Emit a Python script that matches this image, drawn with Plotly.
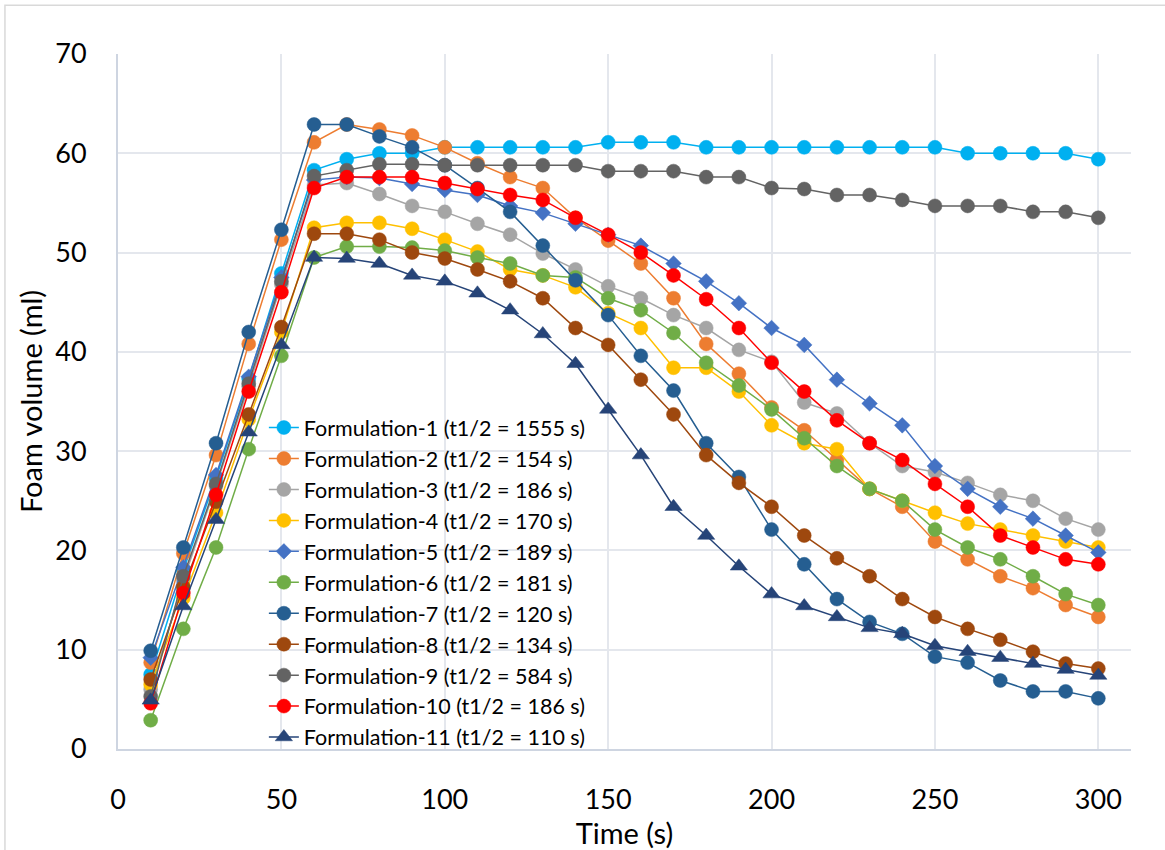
import plotly.graph_objects as go

# Sampling times (s)
time_s = [10, 20, 30, 40, 50, 60, 70, 80, 90, 100, 110, 120, 130, 140, 150,
          160, 170, 180, 190, 200, 210, 220, 230, 240, 250, 260, 270, 280, 290, 300]

# Foam volume (ml) for each formulation
f1 = [7.5, 18.0, 27.3, 37.3, 47.9, 58.3, 59.4, 60.0, 60.0, 60.6, 60.6, 60.6, 60.6, 60.6, 61.1,
      61.1, 61.1, 60.6, 60.6, 60.6, 60.6, 60.6, 60.6, 60.6, 60.6, 60.0, 60.0, 60.0, 60.0, 59.4]
f2 = [8.7, 19.7, 29.6, 40.8, 51.3, 61.1, 62.9, 62.4, 61.8, 60.6, 59.0, 57.6, 56.5, 53.5, 51.2,
      48.9, 45.4, 40.8, 37.8, 34.4, 32.1, 29.1, 26.2, 24.4, 20.9, 19.1, 17.4, 16.2, 14.5, 13.3]
f3 = [6.0, 17.0, 26.5, 36.5, 46.8, 56.8, 57.0, 55.9, 54.7, 54.1, 52.9, 51.8, 49.9, 48.3, 46.6,
      45.4, 43.7, 42.4, 40.2, 39.0, 34.9, 33.8, 30.8, 28.5, 27.9, 26.8, 25.6, 25.0, 23.2, 22.1]
f4 = [6.5, 15.2, 23.8, 33.2, 42.0, 52.5, 53.0, 53.0, 52.4, 51.3, 50.1, 48.3, 47.7, 46.5, 43.9,
      42.4, 38.4, 38.4, 36.0, 32.6, 30.8, 30.2, 26.2, 25.0, 23.8, 22.7, 22.1, 21.5, 20.9, 20.3]
f5 = [9.2, 18.3, 27.6, 37.5, 47.5, 57.3, 57.6, 57.5, 56.9, 56.3, 55.8, 54.7, 54.0, 52.9, 51.8,
      50.7, 48.9, 47.1, 44.9, 42.4, 40.7, 37.2, 34.8, 32.6, 28.5, 26.2, 24.4, 23.2, 21.5, 19.8]
f6 = [2.9, 12.1, 20.3, 30.2, 39.6, 49.5, 50.6, 50.6, 50.5, 50.2, 49.5, 48.9, 47.7, 47.5, 45.4,
      44.2, 41.9, 38.9, 36.6, 34.2, 31.3, 28.5, 26.2, 25.0, 22.1, 20.3, 19.1, 17.4, 15.6, 14.5]
f7 = [9.9, 20.3, 30.8, 42.0, 52.3, 62.9, 62.9, 61.7, 60.6, 58.8, 56.5, 54.1, 50.7, 47.2, 43.7,
      39.6, 36.1, 30.8, 27.4, 22.1, 18.6, 15.1, 12.8, 11.6, 9.3, 8.7, 6.9, 5.8, 5.8, 5.1]
f8 = [7.0, 16.3, 24.9, 33.7, 42.5, 51.9, 51.9, 51.3, 50.0, 49.4, 48.3, 47.1, 45.4, 42.4, 40.7,
      37.2, 33.7, 29.6, 26.8, 24.4, 21.5, 19.2, 17.4, 15.1, 13.3, 12.1, 11.0, 9.8, 8.6, 8.1]
f9 = [5.3, 17.4, 26.7, 36.8, 47.1, 57.7, 58.3, 58.9, 58.9, 58.8, 58.8, 58.8, 58.8, 58.8, 58.2,
      58.2, 58.2, 57.6, 57.6, 56.5, 56.4, 55.8, 55.8, 55.3, 54.7, 54.7, 54.7, 54.1, 54.1, 53.5]
f10 = [4.6, 15.7, 25.6, 36.0, 46.0, 56.5, 57.6, 57.6, 57.6, 57.0, 56.4, 55.8, 55.3, 53.5, 51.8,
       50.0, 47.7, 45.3, 42.4, 38.9, 36.0, 33.1, 30.8, 29.1, 26.7, 24.4, 21.5, 20.3, 19.1, 18.6]
f11 = [4.9, 14.4, 23.1, 31.9, 40.7, 49.5, 49.4, 48.9, 47.7, 47.1, 45.9, 44.2, 41.8, 38.8, 34.2,
       29.6, 24.4, 21.5, 18.4, 15.6, 14.4, 13.3, 12.2, 11.6, 10.4, 9.8, 9.2, 8.6, 8.0, 7.4]

series_names = [
    "Formulation-1 (t1/2 = 1555 s)",
    "Formulation-2 (t1/2 = 154 s)",
    "Formulation-3 (t1/2 = 186 s)",
    "Formulation-4 (t1/2 = 170 s)",
    "Formulation-5 (t1/2 = 189 s)",
    "Formulation-6 (t1/2 = 181 s)",
    "Formulation-7 (t1/2 = 120 s)",
    "Formulation-8 (t1/2 = 134 s)",
    "Formulation-9 (t1/2 = 584 s)",
    "Formulation-10 (t1/2 = 186 s)",
    "Formulation-11 (t1/2 = 110 s)",
]
series_values = [f1, f2, f3, f4, f5, f6, f7, f8, f9, f10, f11]

colors = ["#00B0F0", "#ED7D31", "#A5A5A5", "#FFC000", "#4472C4", "#70AD47",
          "#255E91", "#9E480E", "#636363", "#FF0000", "#264478"]
symbols = ["circle", "circle", "circle", "circle", "diamond", "circle",
           "circle", "circle", "circle", "circle", "triangle-up"]
sizes = [14, 14, 14, 14, 12, 14, 14, 14, 14, 14, 15]

FONT = "Lato, 'Open Sans', sans-serif"

fig = go.Figure()
for name, vals, col, sym, sz in zip(series_names, series_values, colors, symbols, sizes):
    fig.add_trace(go.Scatter(
        x=time_s, y=vals, name=name, mode="lines+markers",
        line=dict(color=col, width=1.5),
        marker=dict(color=col, symbol=sym, size=sz, line=dict(color=col, width=0.5)),
    ))

axis_line = "#CED5E1"
grid = "#E4E7ED"

fig.update_layout(
    width=1165, height=850,
    margin=dict(l=118, r=34, t=54, b=97),
    paper_bgcolor="white", plot_bgcolor="white",
    font=dict(family=FONT, color="#000000"),
    showlegend=True,
    legend=dict(
        x=0.144, y=0.492, xanchor="left", yanchor="top",
        bgcolor="rgba(0,0,0,0)", font=dict(family=FONT, size=21.5, color="#000000"),
        itemwidth=30, tracegroupgap=0,
    ),
    xaxis=dict(
        range=[0, 310], tickvals=[0, 50, 100, 150, 200, 250, 300],
        showgrid=True, gridcolor=grid, gridwidth=1.5,
        showline=True, linecolor=axis_line, linewidth=2,
        zeroline=False, ticks="", ticklabelstandoff=26,
        tickfont=dict(family=FONT, size=27, color="#000000"),
        title=dict(text="Time (s)", font=dict(family=FONT, size=29, color="#000000"), standoff=2),
    ),
    yaxis=dict(
        range=[0, 70], tickvals=[0, 10, 20, 30, 40, 50, 60, 70],
        showgrid=True, gridcolor=grid, gridwidth=1.5,
        showline=True, linecolor=axis_line, linewidth=2,
        zeroline=False, ticks="", ticklabelstandoff=24,
        tickfont=dict(family=FONT, size=27, color="#000000"),
        title=dict(text="Foam volume (ml)", font=dict(family=FONT, size=29, color="#000000"), standoff=4),
    ),
    shapes=[dict(
        type="rect", xref="paper", yref="paper",
        x0=-0.1116, x1=1.2, y0=-0.3, y1=1.070,
        line=dict(color="#D9D9D9", width=1.5), fillcolor="rgba(0,0,0,0)", layer="below",
    )],
)

fig.write_html("out.html")
